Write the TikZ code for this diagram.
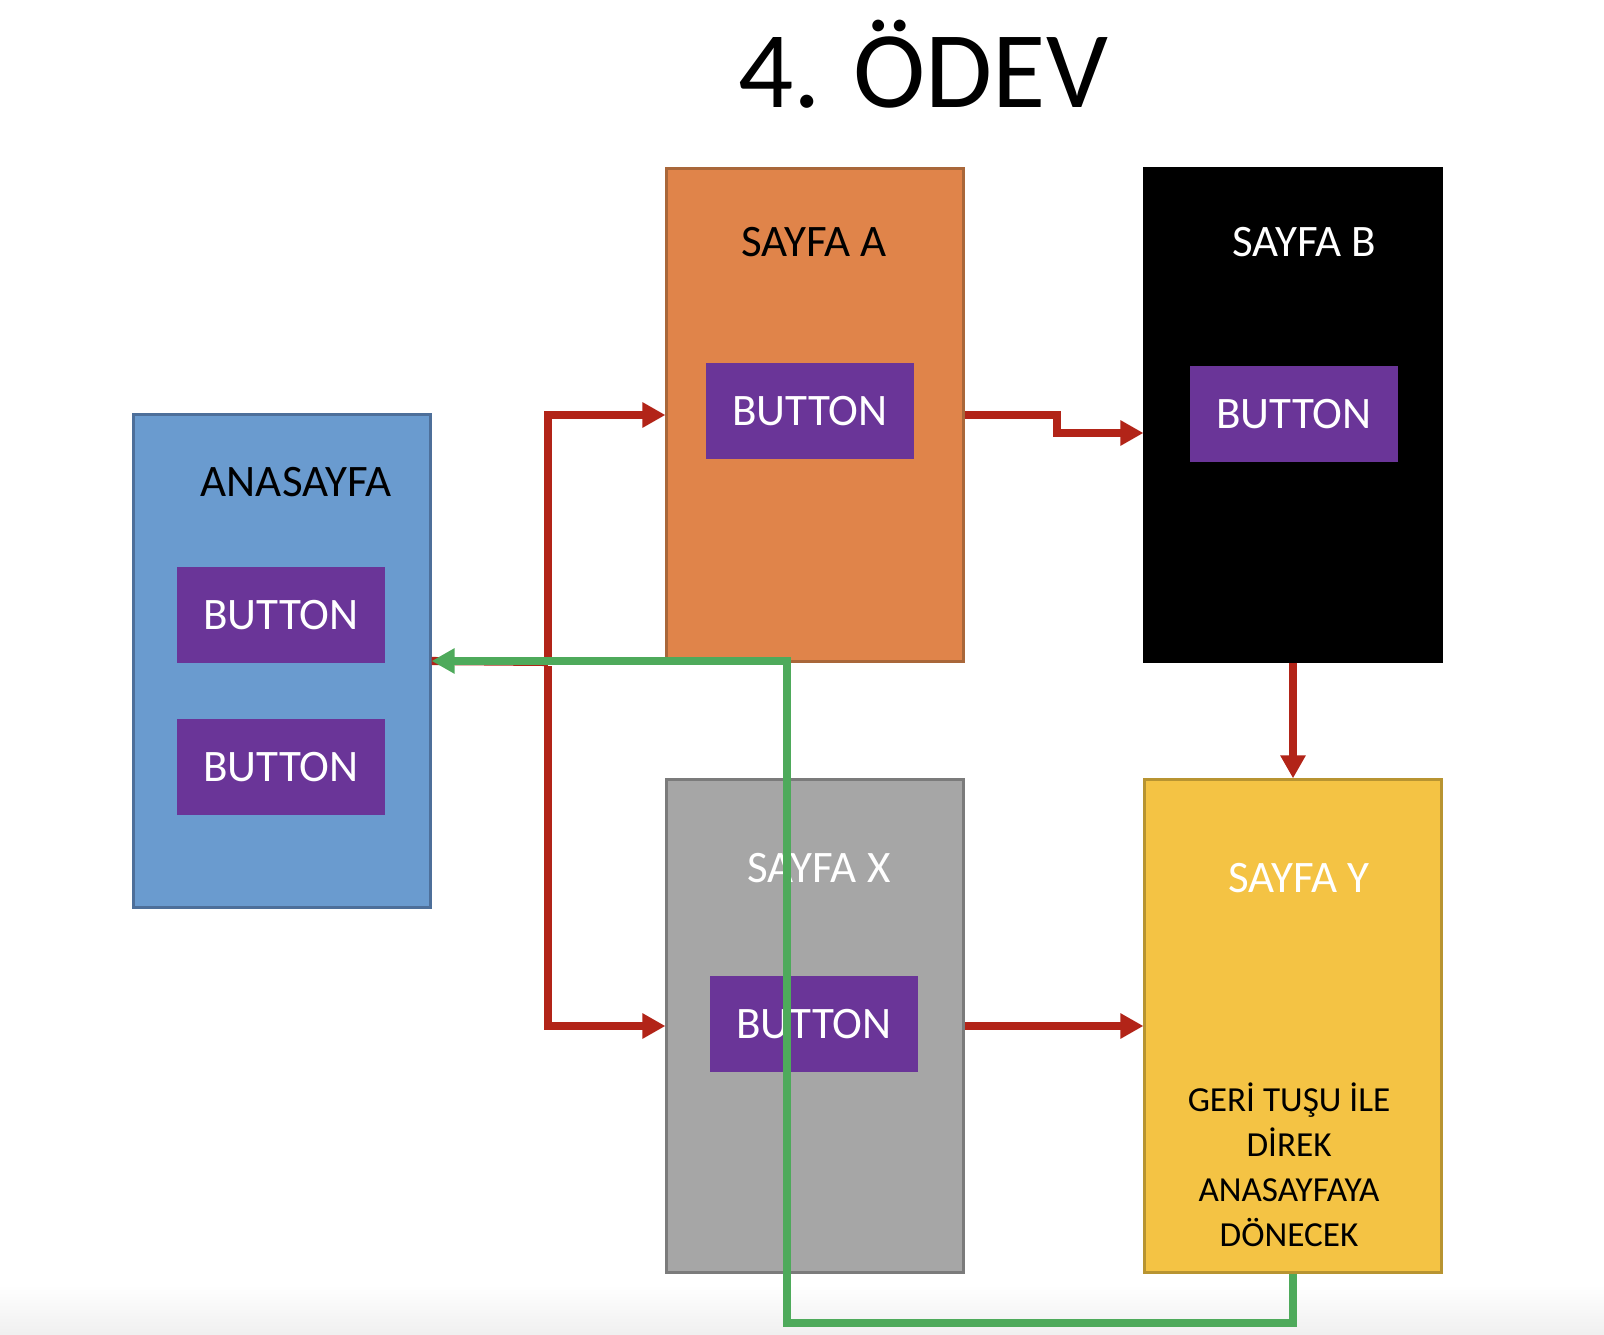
\documentclass[tikz,border=0pt]{standalone}
\usepackage{fontspec}
\setmainfont{Carlito}
\usepackage{tikz}
\usetikzlibrary{shapes,arrows,arrows.meta,positioning}

\definecolor{anablue}{HTML}{6A9BCF}
\definecolor{anaedge}{HTML}{4D6F9A}
\definecolor{aorange}{HTML}{E0844A}
\definecolor{aedge}{HTML}{A9673A}
\definecolor{xgray}{HTML}{A6A6A6}
\definecolor{xedge}{HTML}{7B7B7B}
\definecolor{yyellow}{HTML}{F4C344}
\definecolor{yedge}{HTML}{B89431}
\definecolor{btnpurple}{HTML}{6A3598}
\definecolor{linkred}{HTML}{B22418}
\definecolor{backgreen}{HTML}{4EAA5B}

\begin{document}
\begin{tikzpicture}[x=0.01cm, y=-0.01cm]
    \tikzset{
        page/.style     =   { rectangle
                            , line width=0.85pt
                            , minimum width=2.96cm
                            , minimum height=4.92cm
        }
        , btn/.style    =   { rectangle
                            , fill=btnpurple
                            , text=white
                            , minimum width=2.07cm
                            , minimum height=0.96cm
                            , font=\fontsize{12.8}{15}\selectfont
        }
        , lbl/.style    =   { anchor=base
                            , inner sep=0pt
                            , font=\fontsize{12.8}{15}\selectfont
        }
        , link/.style   =   { draw=linkred
                            , line width=2.3pt
                            , -{Triangle[length=0.23cm, width=0.24cm]}
        }
        , back/.style   =   { draw=backgreen
                            , line width=2.3pt
                            , -{Triangle[length=0.23cm, width=0.24cm]}
        }
    }
    \useasboundingbox (0,0) rectangle (1604,1334);
    \shade[top color=white, bottom color=black!6] (0,1285) rectangle (1604,1334);

    \node[anchor=base, inner sep=0pt, font=\fontsize{31}{38}\selectfont] (title) at (923,108) {4. ÖDEV};

    % pages
    \node(ana)[page, fill=anablue, draw=anaedge] at (282,661)  {};
    \node(A)[page, fill=aorange, draw=aedge]     at (815,415)  {};
    \node(B)[page, fill=black, draw=black]       at (1293,415) {};
    \node(X)[page, fill=xgray, draw=xedge]       at (815,1026) {};
    \node(Y)[page, fill=yyellow, draw=yedge]     at (1293,1026) {};

    \node(anaL)[lbl]             at (296,496)  {ANASAYFA};
    \node(AL)[lbl]               at (814,257)  {SAYFA A};
    \node(BL)[lbl, text=white]   at (1304,257) {SAYFA B};
    \node(XL)[lbl, text=white]   at (819,882)  {SAYFA X};
    \node(YL)[lbl, text=white]   at (1299,892) {SAYFA Y};
    \node(YT)[align=center, inner sep=0pt, font=\fontsize{10}{12.8}\selectfont]
        at (1289,1165) {GERİ TUŞU İLE\\DİREK\\ANASAYFAYA\\DÖNECEK};

    % buttons
    \node(ana1)[btn] at (281,615) {BUTTON};
    \node(ana2)[btn] at (281,767) {BUTTON};
    \node(A1)[btn]   at (810,411) {BUTTON};
    \node(B1)[btn]   at (1294,414) {BUTTON};
    \node(X1)[btn]   at (814,1024) {BUTTON};

    % red links
    \coordinate (split) at (548,662);
    \draw[draw=linkred, line width=2.3pt] (ana.east) -- (split);
    \draw[link] ([yshift=0.04cm]split) |- (A.west);
    \draw[link] ([yshift=-0.04cm]split) |- (X.west);
    \draw[link] (A.east) -- ++(92,0) |- ([yshift=-0.18cm]B.west);
    \draw[link] (B.south) -- (Y.north);
    \draw[link] (X.east) -- (Y.west);

    % back to home
    \coordinate (turn) at (787,1323);
    \draw[back] (Y.south) |- (turn) |- (ana.east);
\end{tikzpicture}
\end{document}
